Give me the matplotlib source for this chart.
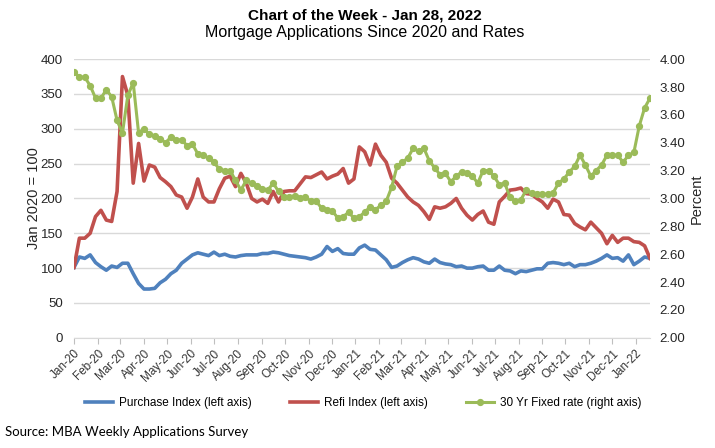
import pandas as pd
import matplotlib
matplotlib.use('Agg')
import matplotlib.pyplot as plt
from matplotlib.ticker import MultipleLocator, FormatStrFormatter

plt.rcParams['font.family'] = ['Liberation Sans', 'DejaVu Sans']

# weekly survey dates, Jan 2020 - Jan 2022
weeks = pd.date_range('2020-01-03', periods=108, freq='7D')

# Purchase index (Jan 2020 = 100), left axis
purchase = [101, 116, 114, 119, 108, 102, 97, 103, 101, 107,
            107, 92, 78, 70, 70, 71, 79, 84, 92, 97,
            107, 113, 119, 122, 120, 118, 123, 118, 120, 117,
            116, 118, 119, 119, 119, 121, 121, 123, 122, 120,
            118, 117, 116, 115, 113, 116, 120, 131, 124, 128,
            121, 120, 120, 129, 133, 127, 126, 119, 112, 101,
            103, 108, 112, 115, 113, 109, 107, 113, 108, 106,
            105, 102, 103, 100, 100, 102, 103, 97, 97, 103,
            97, 96, 92, 96, 95, 97, 99, 99, 107, 108,
            107, 105, 107, 102, 105, 105, 107, 110, 114, 119,
            114, 115, 110, 119, 105, 110, 116, 114]

# Refi index (Jan 2020 = 100), left axis
refi = [101, 143, 143, 150, 174, 183, 169, 167, 210, 375,
        348, 222, 279, 225, 248, 245, 230, 224, 217, 205,
        202, 186, 202, 228, 202, 195, 195, 214, 229, 232,
        217, 236, 222, 200, 195, 199, 193, 210, 195, 210,
        211, 211, 221, 231, 230, 234, 238, 228, 232, 235,
        243, 222, 228, 274, 267, 248, 278, 262, 252, 229,
        222, 212, 202, 195, 190, 181, 170, 188, 186, 188,
        193, 200, 186, 176, 169, 177, 182, 166, 163, 195,
        203, 212, 213, 215, 207, 206, 200, 195, 186, 199,
        195, 177, 176, 164, 159, 155, 166, 158, 150, 135,
        147, 137, 143, 143, 138, 137, 132, 114]

# 30 year fixed rate (%), right axis
rate = [3.91, 3.87, 3.87, 3.81, 3.72, 3.72, 3.78, 3.73, 3.56, 3.47,
        3.74, 3.83, 3.47, 3.50, 3.46, 3.45, 3.43, 3.40, 3.44, 3.42,
        3.42, 3.38, 3.39, 3.32, 3.31, 3.29, 3.26, 3.21, 3.20, 3.20,
        3.13, 3.06, 3.13, 3.11, 3.09, 3.07, 3.06, 3.11, 3.05, 3.01,
        3.01, 3.02, 3.00, 3.01, 2.98, 2.98, 2.93, 2.92, 2.91, 2.86,
        2.87, 2.90, 2.86, 2.87, 2.90, 2.94, 2.92, 2.95, 2.98, 3.08,
        3.23, 3.26, 3.29, 3.36, 3.34, 3.36, 3.27, 3.22, 3.17, 3.18,
        3.12, 3.16, 3.19, 3.18, 3.16, 3.11, 3.20, 3.20, 3.16, 3.10,
        3.11, 3.01, 2.98, 2.99, 3.06, 3.04, 3.03, 3.03, 3.03, 3.04,
        3.11, 3.14, 3.19, 3.23, 3.31, 3.24, 3.16, 3.20, 3.24, 3.31,
        3.31, 3.31, 3.26, 3.31, 3.33, 3.52, 3.65, 3.72]

month_ticks = pd.date_range('2020-01-03', '2022-01-21', freq=pd.DateOffset(months=1))
month_labels = [d.strftime('%b-%y') for d in month_ticks]

fig = plt.figure(figsize=(7.15, 4.48), dpi=100)
ax = fig.add_axes([0.1035, 0.246, 0.8056, 0.622])
ax2 = ax.twinx()

l1, = ax.plot(weeks, purchase, color='#4F81BD', lw=2.6, label='Purchase Index (left axis)')
l2, = ax.plot(weeks, refi, color='#C0504D', lw=2.6, label='Refi Index (left axis)')
l3, = ax2.plot(weeks, rate, color='#9BBB59', lw=2.2, marker='o', ms=4.2,
               label='30 Yr Fixed rate (right axis)')

ax.set_xlim(weeks[0], weeks[-1])
ax.set_ylim(0, 400)
ax.yaxis.set_major_locator(MultipleLocator(50))
ax2.set_ylim(2, 4)
ax2.yaxis.set_major_locator(MultipleLocator(0.2))
ax2.yaxis.set_major_formatter(FormatStrFormatter('%.2f'))

ax.set_xticks(month_ticks)
ax.set_xticklabels(month_labels, rotation=45, ha='right', rotation_mode='anchor')

ax.grid(axis='y', color='#D9D9D9', lw=1)
ax.set_axisbelow(True)
for s in ['top', 'left', 'right']:
    ax.spines[s].set_visible(False)
ax.spines['bottom'].set_color('#D9D9D9')
for s in ax2.spines.values():
    s.set_visible(False)

ax.tick_params(axis='y', length=0, labelsize=9.5, colors='#262626', pad=8)
ax.tick_params(axis='x', length=4, color='#BFBFBF', labelsize=8.5, labelcolor='#333333', pad=3)
ax2.tick_params(axis='y', length=0, labelsize=9.5, colors='#262626', pad=7)

ax.set_ylabel('Jan 2020 = 100', fontsize=10.5, color='#262626', labelpad=0)
ax2.set_ylabel('Percent', fontsize=10.5, color='#262626', labelpad=3)

fig.text(0.51, 1 - 15 / 448, 'Chart of the Week - Jan 28, 2022', ha='center', va='center',
         fontsize=11, fontweight='bold')
fig.text(0.51, 1 - 33 / 448, 'Mortgage Applications Since 2020 and Rates', ha='center',
         va='center', fontsize=11.5)

fig.legend(handles=[l1, l2, l3], loc='center', bbox_to_anchor=(0.508, 1 - 403 / 448), ncol=3,
           frameon=False, fontsize=8.5, handlelength=2.4, columnspacing=3.2, handletextpad=0.5)

fig.text(5 / 715, 1 - 432 / 448, 'Source: MBA Weekly Applications Survey', ha='left', va='center',
         fontsize=9.5, family=['Lato', 'DejaVu Sans'])

fig.savefig('out.png', dpi=100)
